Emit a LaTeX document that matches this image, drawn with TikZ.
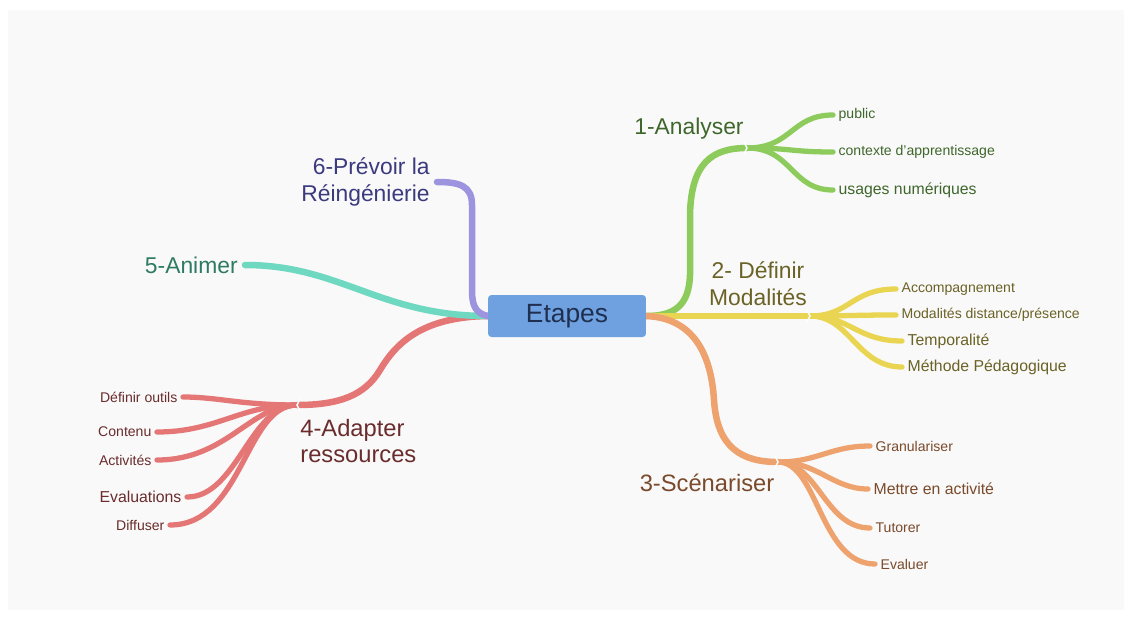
\documentclass[tikz,border=0pt]{standalone}
\usepackage{fontspec}
\setmainfont{Liberation Sans}
\usetikzlibrary{backgrounds}

\definecolor{bggray}{HTML}{F9F9F9}
\definecolor{boxblue}{HTML}{6FA0E0}
\definecolor{boxtext}{HTML}{1F2F4F}
\definecolor{brgreen}{HTML}{8DCC5C}
\definecolor{txgreen}{HTML}{3F672C}
\definecolor{bryellow}{HTML}{E9D551}
\definecolor{txyellow}{HTML}{6B6226}
\definecolor{brorange}{HTML}{EEA26E}
\definecolor{txorange}{HTML}{7A4A2B}
\definecolor{brred}{HTML}{E47676}
\definecolor{txred}{HTML}{6A2C2C}
\definecolor{brteal}{HTML}{6FD8C0}
\definecolor{txteal}{HTML}{2E7A62}
\definecolor{brpurple}{HTML}{9C94DE}
\definecolor{txpurple}{HTML}{3B3A80}

\tikzset{
  branch/.style={line width=3.7pt, line cap=round},
  twig/.style={line width=3pt, line cap=round},
  mainlabel/.style={font=\fontsize{13}{15.3}\selectfont, inner sep=4pt},
  sublabel/.style={font=\fontsize{8}{9.6}\selectfont, inner sep=3pt},
  biglabel/.style={font=\fontsize{9}{10.8}\selectfont, inner sep=3pt},
  notch/.style={white, line width=0.8pt}
}

\begin{document}
\begin{tikzpicture}[x=0.02cm, y=-0.02cm]
\useasboundingbox (0,0) rectangle (1132,619);

% centre
\node[fill=boxblue, rounded corners=2pt, minimum width=3.16cm, minimum height=0.84cm,
      text=boxtext, font=\fontsize{15}{18}\selectfont] (etapes) at (567,316) {Etapes};

% junctions
\coordinate (j1) at (747,148);
\coordinate (j2) at (810,316);
\coordinate (j3) at (778,462);
\coordinate (j4) at (297,405);

% main labels
\node[mainlabel, text=txgreen] (analyser) at (689,129) {1-Analyser};
\node[mainlabel, text=txyellow, align=center] (definir) at (758,284) {2- Définir\\Modalités};
\node[mainlabel, text=txorange, font=\fontsize{13.5}{15.3}\selectfont] (scenariser) at (707,483) {3-Scénariser};
\node[mainlabel, text=txred, align=left, anchor=west, inner sep=0pt,
      font=\fontsize{13.5}{15.3}\selectfont] (adapter) at (300,441) {4-Adapter\\ressources};
\node[mainlabel, text=txteal, anchor=east] (animer) at (245,265) {5-Animer};
\node[mainlabel, text=txpurple, align=right, anchor=east] (prevoir) at (437,182) {6-Prévoir la\\Réingénierie};

% sub labels, right
\node[sublabel, text=txgreen, anchor=west] (public) at (833,115) {public};
\node[sublabel, text=txgreen, anchor=west] (contexte) at (833,152) {contexte d'apprentissage};
\node[biglabel, text=txgreen, anchor=west] (usages) at (833,190) {usages numériques};

\node[sublabel, text=txyellow, anchor=west] (accomp) at (896,289) {Accompagnement};
\node[sublabel, text=txyellow, anchor=west] (distance) at (896,315) {Modalités distance/présence};
\node[biglabel, text=txyellow, anchor=west] (tempo) at (902,341) {Temporalité};
\node[biglabel, text=txyellow, anchor=west] (methode) at (902,367) {Méthode Pédagogique};

\node[sublabel, text=txorange, anchor=west] (granul) at (870,446) {Granulariser};
\node[biglabel, text=txorange, anchor=west] (mettre) at (868,489) {Mettre en activité};
\node[sublabel, text=txorange, anchor=west] (tutorer) at (870,528) {Tutorer};
\node[sublabel, text=txorange, anchor=west] (evaluer) at (875,564) {Evaluer};

% sub labels, left
\node[sublabel, text=txred, anchor=east] (outils) at (183,397) {Définir outils};
\node[sublabel, text=txred, anchor=east] (contenu) at (157,432) {Contenu};
\node[sublabel, text=txred, anchor=east] (activites) at (157,460) {Activités};
\node[biglabel, text=txred, anchor=east] (evaluations) at (187,497) {Evaluations};
\node[sublabel, text=txred, anchor=east] (diffuser) at (170,525) {Diffuser};

\begin{scope}[on background layer]
\fill[white] (0,0) rectangle (1132,619);
\fill[bggray] (8,10) rectangle (1124,610);

% 1 green
\draw[branch, brgreen] (etapes.east) .. controls (675,316) and (689,305) .. (690,275)
  -- (690,215) .. controls (691,163) and (712,148) .. (j1);
\foreach \n in {public,contexte,usages}
  \draw[twig, brgreen] (j1) .. controls +(45,0) and +(-42,0) .. (\n.west);

% 2 yellow
\draw[branch, bryellow] (etapes.east) -- (j2);
\foreach \n in {accomp,distance,tempo,methode}
  \draw[twig, bryellow] (j2) .. controls +(40,0) and +(-45,0) .. (\n.west);

% 3 orange
\draw[branch, brorange] (etapes.east) .. controls (692,318) and (711,352) .. (714,400)
  .. controls (717,448) and (742,462) .. (j3);
\foreach \n/\b in {granul/40,mettre/35,tutorer/45,evaluer/55}
  \draw[twig, brorange] (j3) .. controls +(40,0) and +(-\b,0) .. (\n.west);

% 4 red
\draw[branch, brred] (etapes.west) .. controls (420,317) and (395,345) .. (380,370)
  .. controls (365,395) and (340,405) .. (j4);
\foreach \n/\a/\b in {outils/57/35,contenu/57/60,activites/47/70,evaluations/47/50,diffuser/52/73}
  \draw[twig, brred] (j4) .. controls +(-\a,0) and +(\b,0) .. (\n.east);

% 5 teal
\draw[branch, brteal] (etapes.west) .. controls (380,316) and (340,265) .. (animer.east);

% 6 purple
\draw[branch, brpurple] (etapes.west) .. controls (475,313) and (472,305) .. (472,290)
  -- (472,205) .. controls (472,186) and (460,182) .. (prevoir.east);

% notches
\draw[notch] (j1) ++(-3,-6) -- ++(3,6) -- ++(-3,6);
\draw[notch] (j2) ++(-3,-6) -- ++(3,6) -- ++(-3,6);
\draw[notch] (j3) ++(-3,-6) -- ++(3,6) -- ++(-3,6);
\draw[notch] (j4) ++(3,-6) -- ++(-3,6) -- ++(3,6);
\end{scope}
\end{tikzpicture}
\end{document}
